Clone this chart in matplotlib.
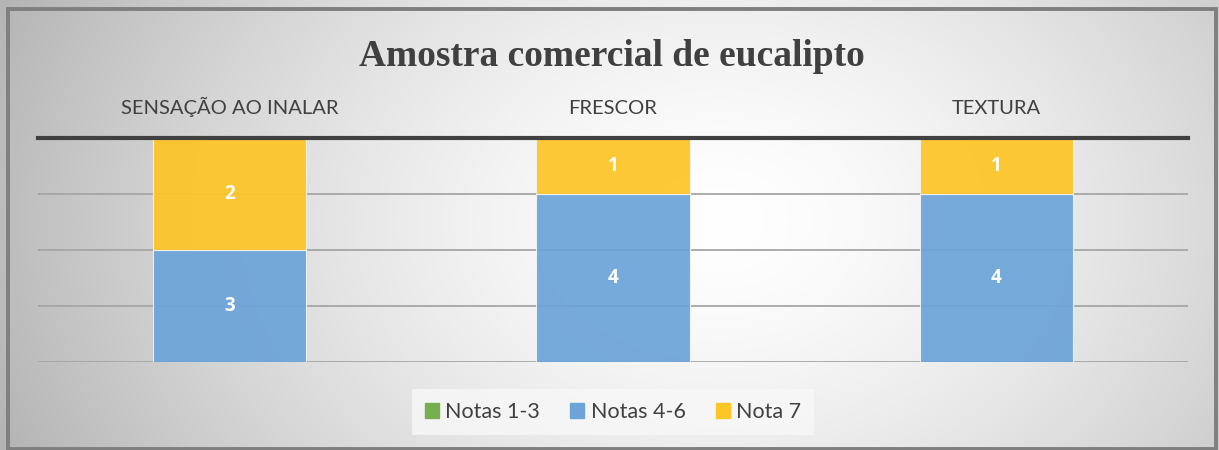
import numpy as np
import matplotlib
matplotlib.use("Agg")
import matplotlib.pyplot as plt
from matplotlib.patches import Rectangle

categories = ["SENSAÇÃO AO INALAR", "FRESCOR", "TEXTURA"]
series_names = ["Notas 1-3", "Notas 4-6", "Nota 7"]
notas_1_3 = [0, 0, 0]
notas_4_6 = [3, 4, 4]
nota_7 = [2, 1, 1]
title = "Amostra comercial de eucalipto"

colors = ["#77AE50", "#6CA4D8", "#FDC526"]
W, H = 1219, 450
fig = plt.figure(figsize=(W / 100, H / 100), dpi=100)

# background gradient
bg = fig.add_axes([0, 0, 1, 1], zorder=-10)
yy, xx = np.mgrid[0:H, 0:W]
r = np.sqrt(((xx - 720) / 700.0) ** 2 + ((yy - 220) / 520.0) ** 2)
v = 1.0 - 0.25 * np.clip(r, 0, 1.3) ** 1.5
img = np.dstack([v, v, v])
bg.imshow(img, aspect="auto", extent=[0, 1, 0, 1], origin="upper")
bg.set_xlim(0, 1)
bg.set_ylim(0, 1)
bg.axis("off")
bg.add_patch(Rectangle((7.5 / W, 1.5 / H), (1215.5 - 7.5) / W, (449 - 9) / H,
                       transform=bg.transAxes, fill=False, edgecolor="#7F7F7F", lw=2.8))

ax = fig.add_axes([38 / W, 1 - 362 / H, 1150 / W, 224 / H])
ax.set_facecolor("none")
x = np.arange(len(categories))
width = 0.4
series = [notas_1_3, notas_4_6, nota_7]
bottom = np.zeros(len(categories))
ymin, ymax = 1, 5
for vals, c in zip(series, colors):
    vals = np.array(vals, dtype=float)
    ax.bar(x, vals, width, bottom=bottom, color=c, edgecolor="#F2F2F2", lw=0.8,
           alpha=0.93, zorder=3)
    for xi, b, val in zip(x, bottom, vals):
        if val > 0:
            lo = max(b, ymin)
            hi = min(b + val, ymax)
            ax.text(xi, (lo + hi) / 2, f"{int(val)}", ha="center", va="center",
                    color="white", fontsize=13.5, fontweight="bold", family="Open Sans", zorder=5)
    bottom = bottom + vals

ax.set_xlim(-0.5, 2.5)
ax.set_ylim(ymin, ymax)
ax.set_yticks([1, 2, 3, 4])
ax.yaxis.grid(True, color="#A6A6A6", lw=1.3, zorder=1)
ax.tick_params(axis="y", left=False, labelleft=False)
ax.xaxis.tick_top()
ax.set_xticks(x)
ax.set_xticklabels(categories, fontsize=14.5, color="#404040", family="Lato")
ax.tick_params(axis="x", length=0, pad=15)
for s in ["left", "right", "bottom"]:
    ax.spines[s].set_visible(False)
ax.spines["top"].set_color("#404040")
ax.spines["top"].set_linewidth(3)
ax.spines["top"].set_zorder(6)

fig.text(612 / W, 1 - 56 / H, title, ha="center", va="center", fontsize=27,
         fontweight="bold", family="Liberation Serif", color="#404040")

handles = [Rectangle((0, 0), 1, 1, color=c) for c in colors]
leg = fig.legend(handles, series_names, loc="center", bbox_to_anchor=(613 / W, 1 - 412 / H),
                 ncol=3, frameon=True, handlelength=0.65, handleheight=0.65,
                 handletextpad=0.3, columnspacing=1.4, borderpad=0.6,
                 prop={"family": "Lato", "size": 15.5})
leg.get_frame().set_facecolor("#F8F8F8")
leg.get_frame().set_edgecolor("none")
leg.get_frame().set_boxstyle("square", pad=0.0)
for t in leg.get_texts():
    t.set_color("#404040")

fig.savefig("out.png", dpi=100)
